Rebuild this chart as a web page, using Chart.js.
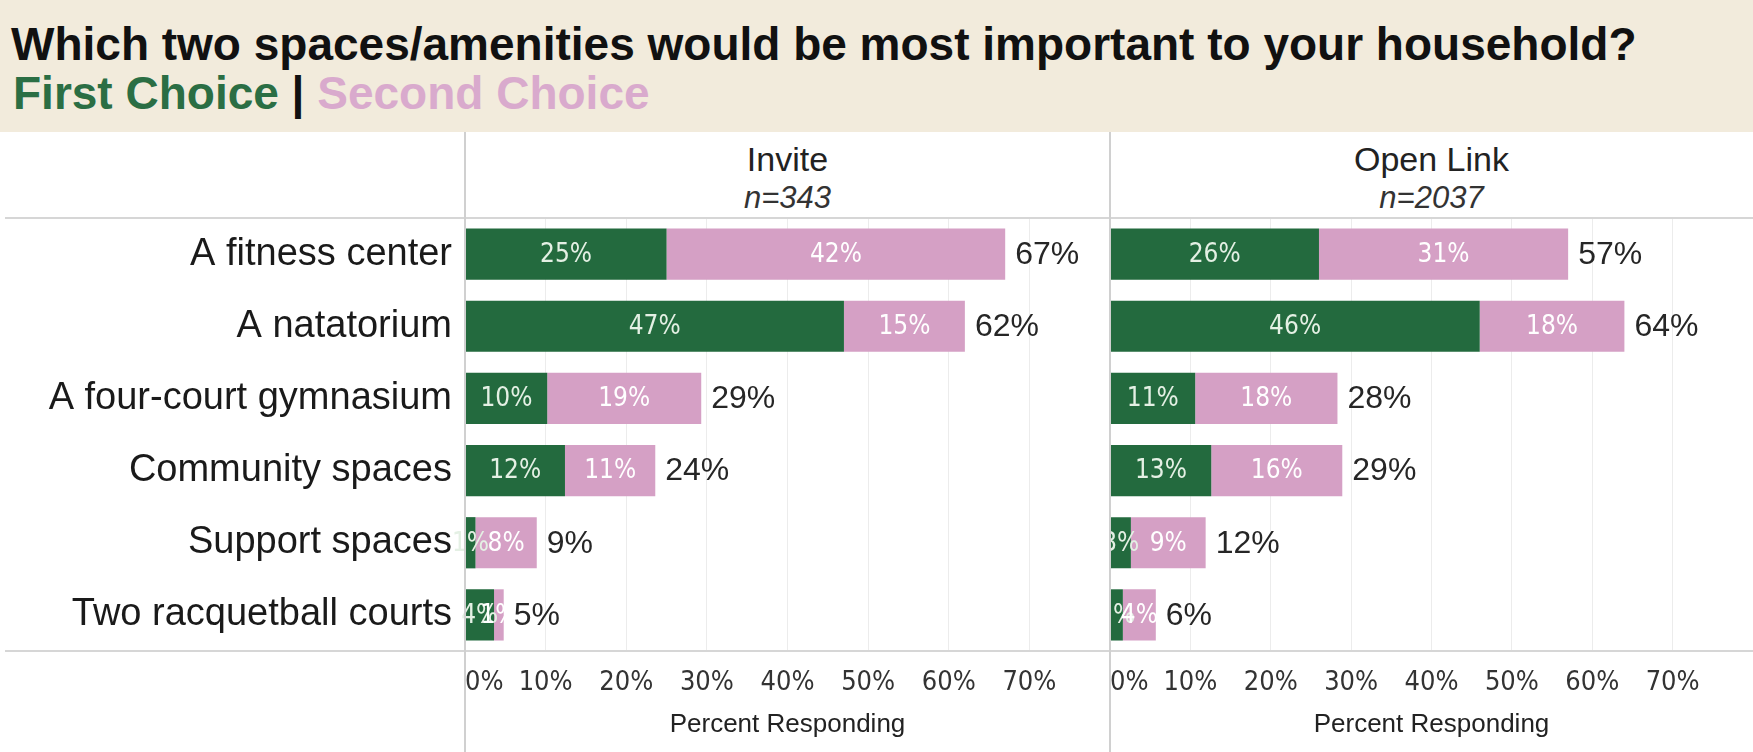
<!DOCTYPE html>
<html>
<head>
<meta charset="utf-8">
<script src="https://cdn.jsdelivr.net/npm/chart.js@4.4.0/dist/chart.umd.min.js"></script>
<style>
  body { margin: 0; width: 1753px; height: 752px; background: #fff; position: relative; overflow: hidden;
         font-family: "Liberation Sans", Arial, sans-serif; }
  #band { position: absolute; left: 0; top: 0; width: 1753px; height: 132px; background: #f2ebdc; }
  .txt { position: absolute; white-space: nowrap; line-height: 1; }
  #title { left: 11px; top: 21px; font-size: 46px; font-weight: bold; color: #111; }
  #sub { left: 13px; top: 70px; font-size: 46px; font-weight: bold; }
  .panel-name { top: 142px; font-size: 34px; color: #222; text-align: center; }
  .panel-n { top: 182px; font-size: 31px; font-style: italic; color: #333; text-align: center; }
  .hline { position: absolute; left: 5px; width: 1748px; height: 2px; background: #d6d6d6; }
  .vline { position: absolute; top: 132px; width: 2px; height: 620px; background: #d0d0d0; }
  canvas { position: absolute; }
</style>
</head>
<body>
<div id="band"></div>
<div id="title" class="txt">Which two spaces/amenities would be most important to your household?</div>
<div id="sub" class="txt"><span style="color:#2b6e44">First Choice</span><span style="color:#111"> | </span><span style="color:#d9aacd">Second Choice</span></div>

<div class="txt panel-name" style="left:465px;width:645px">Invite</div>
<div class="txt panel-n" style="left:465px;width:645px">n=343</div>
<div class="txt panel-name" style="left:1110px;width:643px">Open Link</div>
<div class="txt panel-n" style="left:1110px;width:643px">n=2037</div>

<div style="position:absolute;left:0;top:132px;width:1110px;height:620px"><canvas id="chartInvite"></canvas></div>
<div style="position:absolute;left:1110px;top:132px;width:643px;height:620px"><canvas id="chartOpen"></canvas></div>

<div class="hline" style="top:217px"></div>
<div class="hline" style="top:650px"></div>
<div class="vline" style="left:464px"></div>
<div class="vline" style="left:1109px"></div>

<script>
// categories (rows, top to bottom)
var categories = ["A fitness center", "A natatorium", "A four-court gymnasium",
                  "Community spaces", "Support spaces", "Two racquetball courts"];

// Invite sample, percent responding
var inviteFirst  = [25, 47, 10.2, 12.4, 1.3, 3.6];
var inviteSecond = [42, 15, 19.1, 11.2, 7.6, 1.2];

// Open Link sample, percent responding
var openFirst  = [26, 46, 10.6, 12.6, 2.6, 1.6];
var openSecond = [31, 18, 17.7, 16.3, 9.3, 4.1];

// axis
var tickValues = [0, 10, 20, 30, 40, 50, 60, 70];
var axisMax = 80;

var green = "#236a3e";
var pink = "#d5a0c5";
var narrow = "'Liberation Sans Narrow', 'DejaVu Sans Condensed', sans-serif";

// draws value inside each segment and the total at the end of the bar
var barLabels = {
    id: "barLabels",
    afterDatasetsDraw: function(chart) {
        var ctx = chart.ctx;
        var metas = [chart.getDatasetMeta(0), chart.getDatasetMeta(1)];
        ctx.save();
        ctx.textBaseline = "middle";
        metas.forEach(function(meta, di) {
            meta.data.forEach(function(bar, i) {
                var v = chart.data.datasets[di].data[i];
                ctx.font = "26px " + narrow;
                ctx.fillStyle = di === 0 ? "#e4f0e4" : "#ffffff";
                ctx.textAlign = "center";
                ctx.fillText(Math.round(v) + "%", (bar.base + bar.x) / 2, bar.y + 1);
            });
        });
        metas[1].data.forEach(function(bar, i) {
            var total = chart.data.datasets[0].data[i] + chart.data.datasets[1].data[i];
            ctx.font = "32px 'Liberation Sans', Arial, sans-serif";
            ctx.fillStyle = "#262626";
            ctx.textAlign = "left";
            ctx.fillText(Math.round(total) + "%", bar.x + 10, bar.y + 1);
        });
        ctx.restore();
    }
};

function makeChart(id, first, second, showLabels) {
    return new Chart(document.getElementById(id), {
        type: "bar",
        data: {
            labels: categories,
            datasets: [
                { label: "First Choice", data: first, backgroundColor: green },
                { label: "Second Choice", data: second, backgroundColor: pink }
            ]
        },
        options: {
            indexAxis: "y",
            responsive: true,
            maintainAspectRatio: false,
            animation: false,
            categoryPercentage: 1,
            barPercentage: 0.71,
            layout: { padding: { top: 86, left: 0, right: 0, bottom: 0 } },
            plugins: { legend: { display: false }, tooltip: { enabled: false } },
            scales: {
                x: {
                    stacked: true,
                    min: 0,
                    max: axisMax,
                    afterBuildTicks: function(scale) {
                        scale.ticks = tickValues.concat([axisMax]).map(function(v) { return { value: v }; });
                    },
                    afterFit: function(scale) {
                        scale.height = 101;
                        scale.paddingLeft = 0;
                        scale.paddingRight = 0;
                    },
                    border: { display: false },
                    grid: { color: "#ececec", drawTicks: false },
                    ticks: {
                        align: "inner",
                        padding: 16,
                        color: "#333",
                        font: { family: narrow, size: 27 },
                        callback: function(v) { return tickValues.indexOf(v) >= 0 ? v + "%" : ""; }
                    },
                    title: {
                        display: true,
                        text: "Percent Responding",
                        color: "#222",
                        font: { family: "'Liberation Sans', Arial, sans-serif", size: 26 },
                        padding: { top: 0, bottom: 12 }
                    }
                },
                y: {
                    stacked: true,
                    display: showLabels ? true : false,
                    afterFit: function(scale) { if (showLabels) scale.width = 465; },
                    border: { display: false },
                    grid: { display: false, drawTicks: false },
                    ticks: {
                        padding: 13,
                        color: "#1a1a1a",
                        font: { family: "'Liberation Sans', Arial, sans-serif", size: 38 }
                    }
                }
            }
        },
        plugins: [barLabels]
    });
}

makeChart("chartInvite", inviteFirst, inviteSecond, true);
makeChart("chartOpen", openFirst, openSecond, false);
</script>
</body>
</html>
